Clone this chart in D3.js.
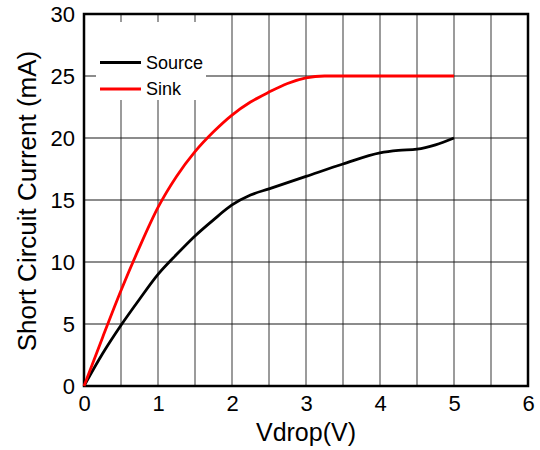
<!DOCTYPE html>
<html>
<head>
<meta charset="utf-8">
<script src="https://cdn.jsdelivr.net/npm/d3@7"></script>
<style>
  body { margin: 0; background: #fff; }
  svg { display: block; font-family: "Liberation Sans", Arial, sans-serif; }
  .tick text { fill: #000; }
</style>
</head>
<body>
<svg id="chart" width="540" height="450"></svg>
<script>
// values
var sourceV  = [0, 0.25, 0.5, 0.75, 1, 1.25, 1.5, 1.75, 2, 2.25, 2.5, 3, 3.5, 4, 4.25, 4.5, 4.75, 5];
var sourceI  = [0, 2.6, 4.9, 7.0, 9.0, 10.6, 12.1, 13.4, 14.6, 15.4, 15.9, 16.9, 17.9, 18.8, 19.0, 19.1, 19.45, 20.0];
var sinkV    = [0, 0.25, 0.5, 0.75, 1, 1.25, 1.5, 1.75, 2, 2.25, 2.5, 2.75, 3, 3.25, 3.5, 4, 5];
var sinkI    = [0, 3.9, 7.7, 11.2, 14.4, 16.9, 18.9, 20.5, 21.85, 22.9, 23.7, 24.4, 24.85, 25.0, 25.0, 25.0, 25.0];
var xTicks   = [0, 1, 2, 3, 4, 5, 6];
var yTicks   = [0, 5, 10, 15, 20, 25, 30];
var xGrid    = [0.5, 1, 1.5, 2, 2.5, 3, 3.5, 4, 4.5, 5, 5.5];
var yGrid    = [5, 10, 15, 20, 25];
var seriesNames = ["Source", "Sink"];
var seriesColors = ["#000000", "#ff0000"];

var svg = d3.select("#chart");
// note: "top" is reserved on window, so use a margin object
var plot = { left: 84, right: 528, top: 14, bottom: 386 };

var x = d3.scaleLinear().domain([0, 6]).range([plot.left, plot.right]);
var y = d3.scaleLinear().domain([0, 30]).range([plot.bottom, plot.top]);

// grid
svg.append("g").selectAll("line")
  .data(xGrid)
  .enter().append("line")
  .attr("x1", function(d) { return x(d); })
  .attr("x2", function(d) { return x(d); })
  .attr("y1", plot.top).attr("y2", plot.bottom)
  .attr("stroke", "#7a7a7a")
  .attr("stroke-width", 1.5);

svg.append("g").selectAll("line")
  .data(yGrid)
  .enter().append("line")
  .attr("x1", plot.left).attr("x2", plot.right)
  .attr("y1", function(d) { return y(d); })
  .attr("y2", function(d) { return y(d); })
  .attr("stroke", "#1a1a1a")
  .attr("stroke-width", 1.2);

// legend background covers the grid
svg.append("rect")
  .attr("x", 96).attr("y", 22)
  .attr("width", 110).attr("height", 78)
  .attr("fill", "#fff");

// frame
svg.append("rect")
  .attr("x", plot.left).attr("y", plot.top)
  .attr("width", plot.right - plot.left).attr("height", plot.bottom - plot.top)
  .attr("fill", "none")
  .attr("stroke", "#000")
  .attr("stroke-width", 2.5);

// axes (labels only)
var xAxis = svg.append("g")
  .attr("transform", "translate(0," + plot.bottom + ")")
  .call(d3.axisBottom(x).tickValues(xTicks).tickSize(0).tickPadding(9).tickFormat(d3.format("d")));
xAxis.select(".domain").remove();
xAxis.selectAll("text").attr("font-size", 22).attr("font-family", "Liberation Sans, Arial, sans-serif");

var yAxis = svg.append("g")
  .attr("transform", "translate(" + plot.left + ",0)")
  .call(d3.axisLeft(y).tickValues(yTicks).tickSize(0).tickPadding(9).tickFormat(d3.format("d")));
yAxis.select(".domain").remove();
yAxis.selectAll("text").attr("font-size", 22).attr("font-family", "Liberation Sans, Arial, sans-serif");

// titles
svg.append("text")
  .attr("x", (plot.left + plot.right) / 2).attr("y", 441)
  .attr("text-anchor", "middle")
  .attr("font-size", 25)
  .text("Vdrop(V)");

svg.append("text")
  .attr("transform", "translate(36," + ((plot.top + plot.bottom) / 2 + 1) + ")rotate(-90)")
  .attr("text-anchor", "middle")
  .attr("font-size", 26)
  .text("Short Circuit Current (mA)");

// curves
var line = d3.line()
  .x(function(d) { return x(d[0]); })
  .y(function(d) { return y(d[1]); })
  .curve(d3.curveMonotoneX);

var series = [d3.zip(sourceV, sourceI), d3.zip(sinkV, sinkI)];

svg.append("g").selectAll("path")
  .data(series)
  .enter().append("path")
  .attr("d", line)
  .attr("fill", "none")
  .attr("stroke", function(d, i) { return seriesColors[i]; })
  .attr("stroke-width", 2.8)
  .attr("stroke-linejoin", "round");

// legend
var legend = svg.append("g").selectAll("g")
  .data(seriesNames)
  .enter().append("g")
  .attr("transform", function(d, i) { return "translate(100," + (62.5 + i * 26.5) + ")"; });

legend.append("line")
  .attr("x1", 0).attr("x2", 41)
  .attr("stroke", function(d, i) { return seriesColors[i]; })
  .attr("stroke-width", 3);

legend.append("text")
  .attr("x", 46).attr("y", 6)
  .attr("font-size", 18)
  .text(function(d) { return d; });
</script>
</body>
</html>
